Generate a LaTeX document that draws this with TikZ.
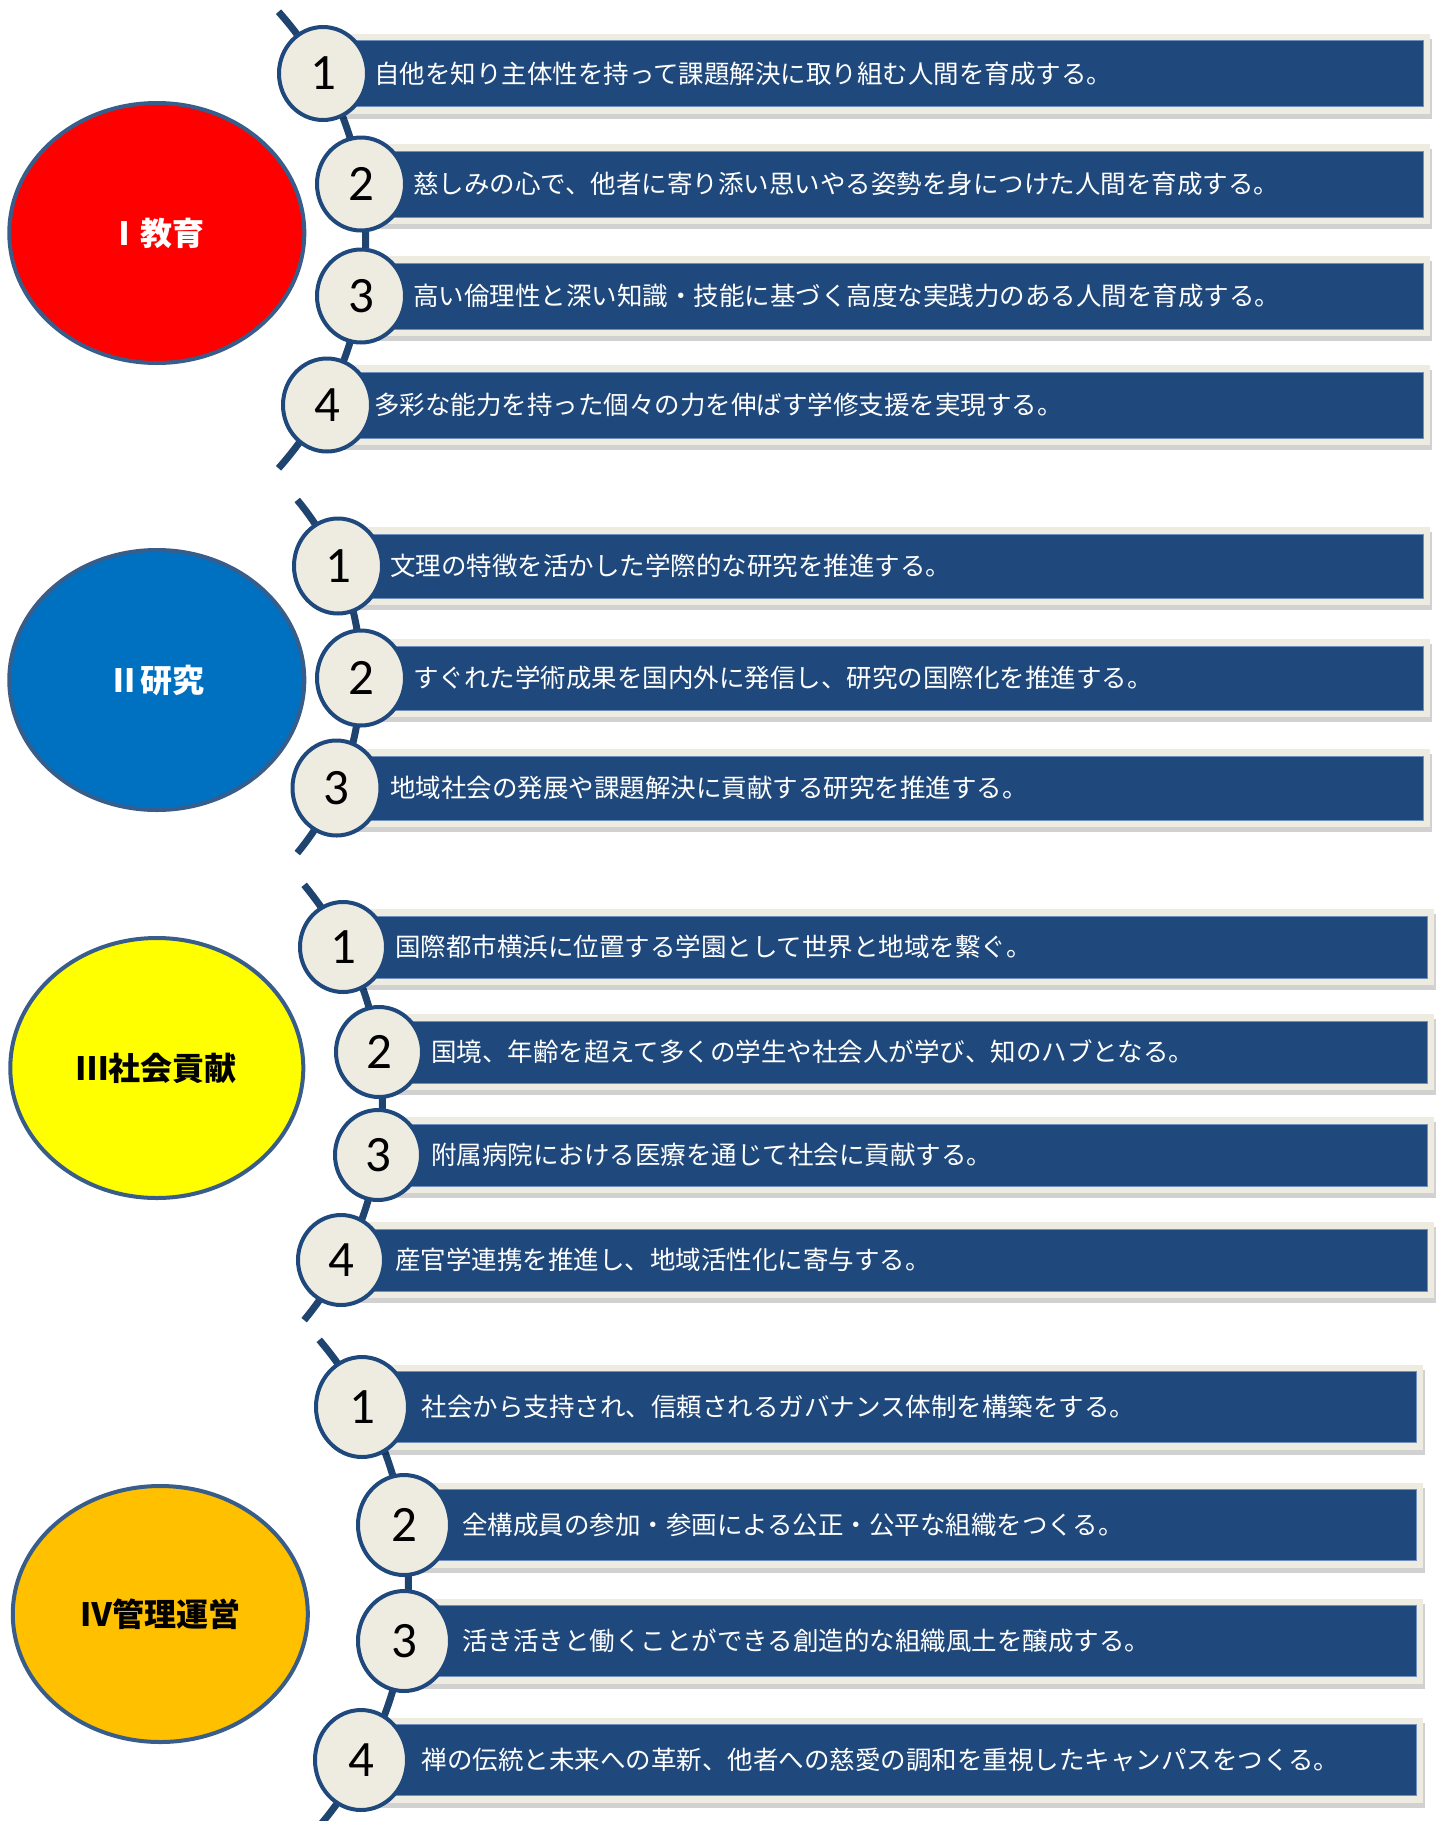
\documentclass[tikz,border=0pt]{standalone}
\usepackage{fontspec}
\newfontfamily\jp{Noto Sans CJK JP}
\newfontfamily\numf{Carlito}
\usetikzlibrary{shapes.geometric}
\definecolor{barblue}{HTML}{1F497D}
\definecolor{barline}{HTML}{6F8FBF}
\definecolor{tanc}{HTML}{EEECE1}
\definecolor{spinec}{HTML}{1F4470}
\definecolor{ringc}{HTML}{1F497D}
\definecolor{ellline}{HTML}{385D8A}
\definecolor{cI}{HTML}{FF0000}
\definecolor{cII}{HTML}{0070C0}
\definecolor{cIII}{HTML}{FFFF00}
\definecolor{cIV}{HTML}{FFC000}
\tikzset{
 spine/.style={draw=spinec, line width=7pt},
 numring/.style={ellipse, fill=tanc, draw=ringc, line width=4pt, inner sep=0pt, font=\numf\fontsize{51}{51}\selectfont, text=black},
 ringI/.style={minimum width=88pt, minimum height=93pt},
 ringII/.style={minimum width=88pt, minimum height=95pt},
 ringIII/.style={minimum width=86pt, minimum height=90pt},
 ringIV/.style={minimum width=92pt, minimum height=100pt},
 sect/.style={ellipse, draw=ellline, line width=4pt, minimum width=295pt, minimum height=260pt, inner sep=0pt, font=\jp\bfseries\fontsize{32}{32}\selectfont},
 itemtext/.style={anchor=west, text=white, font=\jp\fontsize{25.5}{25.5}\selectfont, inner sep=0pt},
 shadowfill/.style={fill=black, opacity=0.18},
 framefill/.style={fill=tanc},
 barfill/.style={fill=barblue, draw=barline, line width=0.8pt},
}
% #1 name, #2 cx, #3 cy, #4 number, #5 text x, #6 right edge, #7 half height, #8 ring style, #9 text
\newcommand\baritem[9]{%
  \fill[shadowfill] (#2+4,#3-#7-7+5) rectangle (#6+7+2,#3+#7+7+5);
  \fill[framefill] (#2,#3-#7-7) rectangle (#6+7,#3+#7+7);
  \path[barfill] (#2,#3-#7) rectangle (#6,#3+#7);
  \node[numring,#8] (#1) at (#2,#3) {#4};
  \node[itemtext] (#1t) at (#5,#3) {#9};
}
\begin{document}
\begin{tikzpicture}[x=1pt,y=-1pt]
\useasboundingbox (0,0) rectangle (1440,1821);
\clip (0,0) rectangle (1440,1821);

% spines
\draw[spine] plot[domain=-41.8:41.8, samples=80, smooth] ({23.2+342.5*cos(\x)},{240+342.5*sin(\x)});
\draw[spine] plot[domain=-39.7:39.7, samples=80, smooth] ({84.6+276.4*cos(\x)},{676.5+276.4*sin(\x)});
\draw[spine] plot[domain=-39.6:39.6, samples=80, smooth] ({41+341.5*cos(\x)},{1102.5+341.5*sin(\x)});
\draw[spine] plot[domain=-40.3:42, samples=80, smooth] ({32.5+376*cos(\x)},{1583+376*sin(\x)});

% section ellipses
\node[sect, fill=cI, text=white] (e1) at (156.8,233) {Ⅰ教育};
\node[sect, fill=cII, text=white] (e2) at (156.8,680) {Ⅱ研究};
\node[sect, fill=cIII, text=black, minimum width=293pt] (e3) at (156.8,1068) {Ⅲ社会貢献};
\node[sect, fill=cIV, text=black, minimum height=256pt] (e4) at (160.3,1614) {Ⅳ管理運営};

% section I
\baritem{a1}{323}{73.5}{1}{374}{1423}{33}{ringI}{自他を知り主体性を持って課題解決に取り組む人間を育成する。}
\baritem{a2}{361}{184}{2}{413}{1423}{33}{ringI}{慈しみの心で、他者に寄り添い思いやる姿勢を身につけた人間を育成する。}
\baritem{a3}{361}{296}{3}{413}{1423}{33}{ringI}{高い倫理性と深い知識・技能に基づく高度な実践力のある人間を育成する。}
\baritem{a4}{327}{405}{4}{374}{1423}{33}{ringI}{多彩な能力を持った個々の力を伸ばす学修支援を実現する。}

% section II
\baritem{b1}{338}{566}{1}{390}{1423}{32}{ringII}{文理の特徴を活かした学際的な研究を推進する。}
\baritem{b2}{361}{678}{2}{413}{1423}{32}{ringII}{すぐれた学術成果を国内外に発信し、研究の国際化を推進する。}
\baritem{b3}{336.5}{788}{3}{390}{1423}{32}{ringII}{地域社会の発展や課題解決に貢献する研究を推進する。}

% section III
\baritem{c1}{343}{947}{1}{395}{1427}{31}{ringIII}{国際都市横浜に位置する学園として世界と地域を繋ぐ。}
\baritem{c2}{379}{1052}{2}{431}{1427}{31}{ringIII}{国境、年齢を超えて多くの学生や社会人が学び、知のハブとなる。}
\baritem{c3}{378}{1155}{3}{431}{1427}{31}{ringIII}{附属病院における医療を通じて社会に貢献する。}
\baritem{c4}{341}{1260}{4}{395}{1427}{31}{ringIII}{産官学連携を推進し、地域活性化に寄与する。}

% section IV
\baritem{d1}{362}{1407}{1}{421.5}{1416}{35.5}{ringIV}{社会から支持され、信頼されるガバナンス体制を構築をする。}
\baritem{d2}{404}{1525}{2}{462}{1416}{35.5}{ringIV}{全構成員の参加・参画による公正・公平な組織をつくる。}
\baritem{d3}{404}{1641}{3}{462}{1416}{35.5}{ringIV}{活き活きと働くことができる創造的な組織風土を醸成する。}
\baritem{d4}{361}{1760}{4}{421.5}{1416}{35.5}{ringIV}{禅の伝統と未来への革新、他者への慈愛の調和を重視したキャンパスをつくる。}
\end{tikzpicture}
\end{document}
